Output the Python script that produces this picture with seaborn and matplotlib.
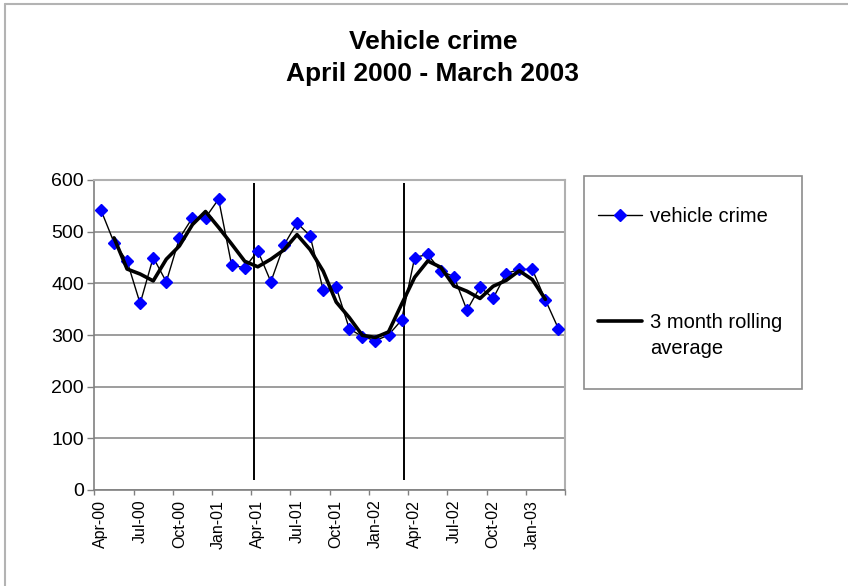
import matplotlib
matplotlib.use('Agg')
import matplotlib.pyplot as plt
import matplotlib.ticker as ticker
from matplotlib.lines import Line2D
from matplotlib.patches import Rectangle
import seaborn as sns
import numpy as np
import pandas as pd

# 36 monthly categories, Apr-00 .. Mar-03
months = list(pd.date_range('2000-04-01', periods=36, freq='MS').strftime('%b-%y'))
tick_labels = months[::3]

vehicle_crime = [542, 479, 443, 361, 450, 403, 487, 527, 527, 563, 435, 430,
                 463, 403, 474, 517, 492, 387, 392, 312, 297, 289, 300, 329,
                 450, 456, 424, 413, 348, 393, 371, 419, 427, 427, 368, 312]
rolling_avg = [np.nan, 488.0, 427.7, 418.0, 404.7, 446.7, 472.3, 513.7, 539.0, 508.3, 476.0, 442.7,
               432.0, 446.7, 464.7, 494.3, 465.3, 423.7, 363.7, 333.7, 299.3, 295.3, 306.0, 359.7,
               411.7, 443.3, 431.0, 395.0, 384.7, 370.7, 394.3, 405.7, 424.3, 407.3, 369.0, np.nan]

# hand drawn year separators (in month units on the category axis)
year_marks = [12.2, 23.65]
year_mark_span = (19, 594)

df = pd.DataFrame({'month': months, 'vehicle crime': vehicle_crime, 'rolling': rolling_avg})
df['pos'] = np.arange(len(df)) + 0.5

sns.set_style('white')
plt.rcParams['font.family'] = ['Liberation Sans', 'DejaVu Sans']
plt.rcParams['text.color'] = 'black'
plt.rcParams['xtick.color'] = 'black'
plt.rcParams['ytick.color'] = 'black'

fig = plt.figure(figsize=(8.48, 5.86), dpi=100)
ax = fig.add_axes([94.4 / 848, 1 - 490 / 586, (565 - 94.4) / 848, 310 / 586])

sns.lineplot(data=df, x='pos', y='vehicle crime', ax=ax, color='black', lw=1,
             marker='D', markersize=6.5, markerfacecolor='#0000ff', markeredgecolor='#0000ff',
             markeredgewidth=1, legend=False, zorder=3)
sns.lineplot(data=df, x='pos', y='rolling', ax=ax, color='black', lw=2.6,
             legend=False, zorder=4)

ax.vlines(year_marks, *year_mark_span, color='black', lw=1.4, zorder=2)

ax.set_xlim(0, len(months))
ax.set_ylim(0, 600)
ax.yaxis.set_major_locator(ticker.MultipleLocator(100))
ax.grid(axis='y', color='#8c8c8c', lw=1.2)
ax.set_axisbelow(True)

ax.set_xticks(df['pos'][::3], tick_labels, rotation=90, fontsize=11.5)
ax.set_xticks(np.arange(0, len(months) + 1, 3), minor=True)
ax.tick_params(axis='x', which='major', length=0, pad=7, labelcolor='black')
ax.tick_params(axis='x', which='minor', length=3.5, width=1, color='#808080', direction='out')
ax.tick_params(axis='y', length=5, width=1, color='#808080', pad=2.5, labelsize=14,
               labelcolor='black', direction='out')
ax.xaxis.set_ticks_position('bottom')
ax.yaxis.set_ticks_position('left')
ax.set_xlabel('')
ax.set_ylabel('')

for side in ['left', 'bottom']:
    ax.spines[side].set_color('#808080')
    ax.spines[side].set_linewidth(1.2)
for side in ['top', 'right']:
    ax.spines[side].set_color('#b0b0b0')
    ax.spines[side].set_linewidth(1.5)

fig.text(433 / 848, 1 - 30 / 586, 'Vehicle crime\nApril 2000 - March 2003',
         ha='center', va='top', fontsize=19, fontweight='bold', linespacing=1.4,
         color='black')

# legend
handles = [Line2D([], [], color='black', lw=1, marker='D', markersize=6.5,
                  markerfacecolor='#0000ff', markeredgecolor='#0000ff'),
           Line2D([], [], color='black', lw=2.6)]
leg = ax.legend(handles, ['vehicle crime', '3 month rolling'], loc='upper left',
                bbox_to_anchor=(598 / 848, 1 - 207 / 586), bbox_transform=fig.transFigure,
                frameon=False, borderpad=0, borderaxespad=0, handlelength=2.2,
                handletextpad=0.37, labelspacing=4.3, fontsize=14.5)
for t in leg.get_texts():
    t.set_color('black')
ax.annotate('average', xy=(0, 0), xycoords=leg.get_texts()[1], xytext=(0, -5),
            textcoords='offset points', ha='left', va='top', fontsize=14.5, zorder=10,
            color='black', annotation_clip=False)
fig.add_artist(Rectangle((584 / 848, 1 - 389 / 586), (802 - 584) / 848, (389 - 176) / 586,
                         transform=fig.transFigure, fill=False, ec='#8c8c8c', lw=1.2))

# chart area border (top and left edges)
fig.add_artist(Line2D([5 / 848, 1], [1 - 4 / 586, 1 - 4 / 586], transform=fig.transFigure,
                      color='#b3b3b3', lw=1.5))
fig.add_artist(Line2D([5 / 848, 5 / 848], [0, 1 - 4 / 586], transform=fig.transFigure,
                      color='#b3b3b3', lw=1.5))

fig.canvas.draw()
plt.savefig('out.png', dpi=100)
